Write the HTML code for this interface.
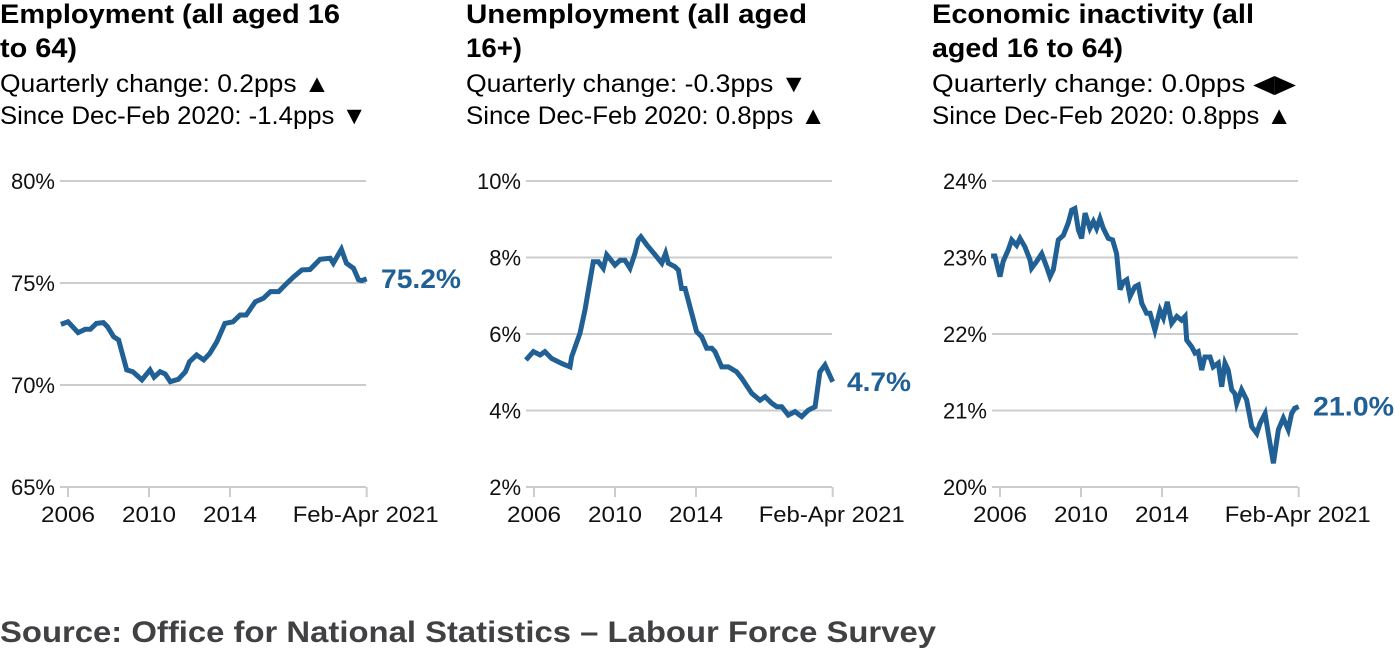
<!DOCTYPE html>
<html><head><meta charset="utf-8"><style>
html,body{margin:0;padding:0;background:#fff;width:1395px;height:651px;overflow:hidden}
svg{display:block;font-family:"Liberation Sans",sans-serif}
.t{font-size:27px;font-weight:bold;fill:#000}
.b{font-size:25px;fill:#000}
.tk{font-size:22px;fill:#111}
.lab{font-size:27px;font-weight:bold;fill:#206095}
</style></head><body>
<svg id="chart" width="1395" height="651">
<g>
<text class="t" x="0" y="23" textLength="340" lengthAdjust="spacingAndGlyphs">Employment (all aged 16</text>
<text class="t" x="0" y="57" textLength="77" lengthAdjust="spacingAndGlyphs">to 64)</text>
<text class="b" x="0" y="92" textLength="330" lengthAdjust="spacingAndGlyphs">Quarterly change: 0.2pps ▲</text>
<text class="b" x="0" y="124" textLength="367" lengthAdjust="spacingAndGlyphs">Since Dec-Feb 2020: -1.4pps ▼</text>
</g>
<g>
<text class="t" x="466" y="23" textLength="341" lengthAdjust="spacingAndGlyphs">Unemployment (all aged</text>
<text class="t" x="466" y="57" textLength="56" lengthAdjust="spacingAndGlyphs">16+)</text>
<text class="b" x="466" y="92" textLength="341" lengthAdjust="spacingAndGlyphs">Quarterly change: -0.3pps ▼</text>
<text class="b" x="466" y="124" textLength="360" lengthAdjust="spacingAndGlyphs">Since Dec-Feb 2020: 0.8pps ▲</text>
</g>
<g>
<text class="t" x="932" y="23" textLength="322" lengthAdjust="spacingAndGlyphs">Economic inactivity (all</text>
<text class="t" x="932" y="57" textLength="191" lengthAdjust="spacingAndGlyphs">aged 16 to 64)</text>
<text class="b" x="932" y="92" textLength="364" lengthAdjust="spacingAndGlyphs">Quarterly change: 0.0pps ◀▶</text>
<text class="b" x="932" y="124" textLength="360" lengthAdjust="spacingAndGlyphs">Since Dec-Feb 2020: 0.8pps ▲</text>
</g>
<text x="0" y="642" textLength="936" lengthAdjust="spacingAndGlyphs" style="font-size:30px;font-weight:bold;fill:#414042">Source: Office for National Statistics – Labour Force Survey</text>
</svg>
<script>
const empYears=[2005.65,2006.0,2006.5,2006.85,2007.1,2007.4,2007.75,2007.95,2008.25,2008.5,2008.9,2009.2,2009.65,2010.05,2010.25,2010.55,2010.8,2011.05,2011.45,2011.8,2012.0,2012.35,2012.7,2013.0,2013.35,2013.75,2014.15,2014.5,2014.8,2015.25,2015.65,2016.0,2016.4,2016.8,2017.15,2017.55,2017.95,2018.45,2018.95,2019.1,2019.5,2019.75,2020.1,2020.35,2020.5,2020.75];
const empValues=[72.97,73.1,72.57,72.73,72.73,73.02,73.06,72.86,72.37,72.21,70.74,70.65,70.25,70.74,70.38,70.65,70.54,70.16,70.28,70.65,71.14,71.47,71.23,71.55,72.12,73.02,73.1,73.43,73.43,74.08,74.25,74.58,74.58,74.98,75.31,75.64,75.66,76.16,76.21,75.97,76.65,75.97,75.72,75.15,75.12,75.2];
const empTicks=[80,75,70,65];
const unYears=[2005.6,2005.97,2006.3,2006.54,2006.87,2007.37,2007.78,2007.86,2008.27,2008.52,2008.77,2008.93,2009.18,2009.42,2009.59,2010.0,2010.25,2010.49,2010.74,2010.99,2011.15,2011.28,2011.57,2011.98,2012.31,2012.5,2012.63,2012.96,2013.13,2013.29,2013.46,2013.79,2014.03,2014.28,2014.53,2014.78,2014.94,2015.27,2015.6,2016.01,2016.26,2016.75,2017.16,2017.41,2017.74,2017.99,2018.23,2018.56,2018.89,2019.22,2019.55,2019.88,2020.12,2020.37,2020.75];
const unValues=[5.32,5.54,5.45,5.54,5.36,5.23,5.14,5.41,6.02,6.63,7.41,7.89,7.89,7.72,8.07,7.8,7.93,7.93,7.72,8.11,8.46,8.54,8.33,8.07,7.85,8.11,7.85,7.76,7.67,7.19,7.19,6.54,6.06,5.93,5.63,5.63,5.54,5.14,5.14,5.01,4.84,4.45,4.27,4.36,4.19,4.1,4.1,3.88,3.97,3.84,4.01,4.1,5.01,5.19,4.75];
const unTicks=[10,8,6,4,2];
const inYears=[2005.56,2005.75,2006.0,2006.16,2006.41,2006.58,2006.82,2006.99,2007.23,2007.48,2007.56,2007.81,2008.06,2008.3,2008.47,2008.63,2008.88,2009.13,2009.37,2009.54,2009.7,2009.87,2010.03,2010.2,2010.44,2010.61,2010.77,2010.94,2011.1,2011.35,2011.56,2011.76,2011.93,2012.09,2012.26,2012.42,2012.59,2012.67,2012.83,2013.0,2013.24,2013.41,2013.65,2013.9,2014.07,2014.26,2014.48,2014.73,2014.97,2015.14,2015.22,2015.47,2015.63,2015.79,2015.96,2016.12,2016.37,2016.53,2016.78,2016.95,2017.11,2017.27,2017.44,2017.6,2017.69,2017.93,2018.18,2018.43,2018.68,2018.84,2019.09,2019.25,2019.5,2019.75,2019.99,2020.23,2020.4,2020.56,2020.75];
const inValues=[23.02,23.02,22.75,22.95,23.1,23.23,23.16,23.25,23.14,22.97,22.86,22.95,23.05,22.88,22.75,22.84,23.23,23.29,23.45,23.62,23.64,23.36,23.25,23.58,23.38,23.47,23.38,23.51,23.38,23.25,23.23,23.05,22.58,22.68,22.71,22.49,22.58,22.62,22.64,22.4,22.27,22.27,22.05,22.31,22.21,22.42,22.14,22.23,22.18,22.23,21.92,21.83,21.75,21.77,21.53,21.7,21.7,21.57,21.62,21.31,21.62,21.53,21.27,21.22,21.09,21.27,21.14,20.79,20.7,20.83,20.96,20.7,20.31,20.75,20.9,20.75,20.96,21.03,21.05];
const inTicks=[24,23,22,21,20];
const xTickYears=[2006,2010,2014,2020.75];
const xTickLabels=['2006','2010','2014','Feb-Apr 2021'];
const endLabels=['75.2%','4.7%','21.0%'];

const NS='http://www.w3.org/2000/svg';
const svg=document.getElementById('chart');
function mk(tag,attrs,parent){const e=document.createElementNS(NS,tag);for(const k in attrs)e.setAttribute(k,attrs[k]);parent.appendChild(e);return e;}
function panel(off,years,vals,ticks,endLabel,name,labW){
  const g=mk('g',{},svg);
  
  
  const yMax=ticks[0],yMin=ticks[ticks.length-1];
  const X=y=>off+68+(y-2006)*20.25;
  const Y=v=>181+(yMax-v)/(yMax-yMin)*306;
  ticks.forEach(t=>{
    const ln=mk('line',{x1:off+60,x2:off+366,y1:Y(t),y2:Y(t),stroke:'#cccccc','stroke-width':2},g);
    
    
    const tx=mk('text',{x:off+55,y:Y(t)+8,'text-anchor':'end',class:'tk'},g);
    tx.textContent=t+'%';
    
    
  });
  xTickYears.forEach((yr,i)=>{
    const x=X(yr);
    const tl=mk('line',{x1:x,x2:x,y1:487,y2:497,stroke:'#cccccc','stroke-width':2},g);
    
    
    const tx=mk('text',{x:i===3?x+72:x,y:522,'text-anchor':i===3?'end':'middle',class:'tk'},g);
    if(i===3){tx.setAttribute('textLength','146');tx.setAttribute('lengthAdjust','spacingAndGlyphs');}
    else{tx.setAttribute('textLength','54');tx.setAttribute('lengthAdjust','spacingAndGlyphs');}
    tx.textContent=xTickLabels[i];
    
    
  });
  const d=years.map((yr,i)=>(i?'L':'M')+X(yr).toFixed(1)+' '+Y(vals[i]).toFixed(1)).join(' ');
  const p=mk('path',{d:d,fill:'none',stroke:'#206095','stroke-width':5,'stroke-linejoin':'miter'},g);
  
  
  const lv=vals[vals.length-1];
  const lt=mk('text',{x:off+381,y:Y(lv)+9,class:'lab',textLength:labW,lengthAdjust:'spacingAndGlyphs'},g);
  lt.textContent=endLabel;
  
  
}
panel(0,empYears,empValues,empTicks,endLabels[0],'employment',80);
panel(466,unYears,unValues,unTicks,endLabels[1],'unemployment',64);
panel(932,inYears,inValues,inTicks,endLabels[2],'inactivity',81);
</script>
</body></html>
